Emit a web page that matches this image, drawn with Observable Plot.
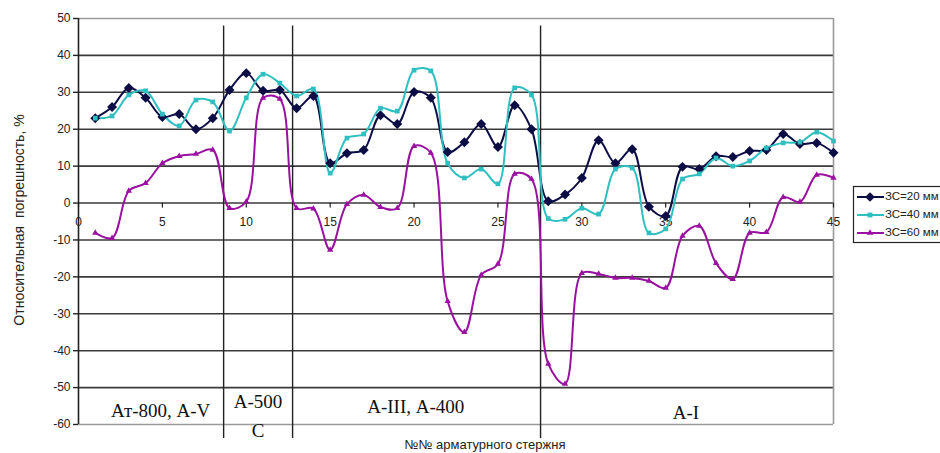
<!DOCTYPE html>
<html>
<head>
<meta charset="utf-8">
<script src="https://cdn.jsdelivr.net/npm/d3@7"></script>
<script src="https://cdn.jsdelivr.net/npm/@observablehq/plot@0.6"></script>
<style>
  html, body { margin: 0; padding: 0; background: #fff; overflow: hidden; }
  #chart { position: relative; width: 940px; height: 453px; }
</style>
</head>
<body>
<div id="chart"></div>
<script>
// ---- data ----
const bars = d3.range(1, 46); // rod numbers 1..45
const s20 = [23,26,31.2,28.5,23.3,24.1,20,23,30.6,35.2,
             30.4,30.6,25.7,29,10.8,13.5,14.4,23.8,21.4,30.1,
             28.5,13.8,16.5,21.4,15.2,26.5,20,0.5,2.3,6.8,
             17,10.8,14.6,-1,-3.5,9.8,9.2,12.7,12.5,14.1,
             14.4,18.7,16,16.3,13.6];
const s40 = [23,23.6,29.3,30.4,24.1,20.9,27.9,27.4,19.5,28.5,
             34.9,32.5,29,30.9,8.1,17.6,18.7,25.7,24.9,36,
             35.8,10.8,6.8,9.2,5.2,31.2,29.3,-4.2,-4.4,-1.4,
             -3,9.2,9.5,-8.1,-7,6.5,7.9,12.2,10,11.4,
             14.9,16.3,16.5,19.2,16.8];
const s60 = [-8.1,-9.5,3.3,5.4,10.8,12.7,13.3,14.4,-1.4,0.4,
             28.5,28.2,-1.4,-1.5,-12.7,-0.3,2.2,-1.1,-1.4,15.4,
             13.6,-26.6,-35,-19.5,-16.5,7.9,6.5,-43.6,-49,-19,
             -19.2,-20.3,-20.3,-21.1,-23,-8.9,-6.2,-16.3,-20.6,-8.1,
             -7.9,1.6,0.3,7.6,6.8];
const seriesNames = ["ЗС=20 мм", "ЗС=40 мм", "ЗС=60 мм"];
const seriesColors = ["#0d0d45", "#2fbfc0", "#9a10a0"];
const seriesSymbols = ["diamond2", "square2", "triangle2"];
const xTicks = [0,5,10,15,20,25,30,35,40,45];
const yTicks = [-60,-50,-40,-30,-20,-10,0,10,20,30,40,50];
const separators = [8.65, 12.76, 27.54];
const sectionLabels = ["Ат-800, А-V", "А-500", "С", "А-III, А-400", "А-I"];
const sectionX = [4.9, 10.7, 10.7, 20.1, 36.2];
const sectionY = [-56.4, -53.8, -61.8, -55.2, -56.9];
const yTitle = "Относительная  погрешность, %";
const xTitle = "№№ арматурного стержня";

// ---- build table ----
const table = [];
[s20, s40, s60].forEach((arr, i) => arr.forEach((v, j) => table.push({n: bars[j], v, s: seriesNames[i]})));
const sections = sectionLabels.map((t, i) => ({t, x: sectionX[i], y: sectionY[i]}));

const font = "Liberation Sans, Arial, sans-serif";
const marks = [
  // gridlines
  Plot.ruleY(yTicks.filter(d => d > -60 && d < 50), {y: d => d, x1: 0, x2: 45, stroke: "#3a3a3a", strokeWidth: 1.6}),
  Plot.ruleY([50, -60], {y: d => d, x1: 0, x2: 45, stroke: "#9a9a9a", strokeWidth: 1.6}),
  Plot.ruleX([45], {x: d => d, y1: -60, y2: 50, stroke: "#9a9a9a", strokeWidth: 1.6}),
  // section separators
  Plot.ruleX(separators, {x: d => d, y1: -63.8, y2: 48, stroke: "#222", strokeWidth: 1.4, clip: false}),
  // left axis line
  Plot.ruleX([0], {x: d => d, y1: -60, y2: 50, stroke: "#222", strokeWidth: 1.6}),
  // y ticks
  Plot.axisY(yTicks, {tickSize: 5, tickPadding: 3, fontSize: 12, stroke: "#222", strokeWidth: 1.4, tickFormat: d => d, label: null, fill: "#222"}),
  // x ticks on the zero line
  Plot.vector(xTicks, {x: d => d, y: 0, length: 4, rotate: 180, anchor: "start", stroke: "#222", strokeWidth: 1.2, shape: "spike", r: 0}),
  Plot.text(xTicks, {x: d => d, y: 0, dy: 19, text: d => String(d), fontSize: 12, fill: "#222", fontFamily: font}),
  // series lines
  Plot.line(table, {x: "n", y: "v", z: "s", stroke: "s", strokeWidth: 2, curve: "catmull-rom"}),
  Plot.dot(table.filter(d => d.s === seriesNames[0]), {x: "n", y: "v", symbol: () => "diamond2", fill: seriesColors[0], stroke: "none", r: 4.5}),
  Plot.dot(table.filter(d => d.s === seriesNames[1]), {x: "n", y: "v", symbol: () => "square2", fill: seriesColors[1], stroke: "none", r: 3}),
  Plot.dot(table.filter(d => d.s === seriesNames[2]), {x: "n", y: "v", symbol: () => "triangle2", fill: seriesColors[2], stroke: "none", r: 3}),
  // section labels
  Plot.text(sections, {x: "x", y: "y", text: "t", fontSize: 19, fontFamily: "Liberation Serif, Times New Roman, serif", fill: "#111", clip: false})
];

const chart = Plot.plot({
  width: 940,
  height: 453,
  marginLeft: 78,
  marginRight: 107,
  marginTop: 18,
  marginBottom: 29,
  style: {fontFamily: font, background: "white", overflow: "visible"},
  x: {domain: [0, 45], axis: null},
  y: {domain: [-60, 50], axis: null},
  color: {domain: seriesNames, range: seriesColors},
  symbol: {domain: ["diamond2", "square2", "triangle2"], range: ["diamond2", "square2", "triangle2"]},
  marks
});

const svg = d3.select(chart);
// axis titles
svg.append("text")
  .attr("transform", "translate(20,220) rotate(-90)")
  .attr("text-anchor", "middle")
  .attr("dominant-baseline", "middle")
  .style("font", "14px " + font)
  .style("white-space", "pre")
  .attr("fill", "#222")
  .text(yTitle);
svg.append("text")
  .attr("x", 485).attr("y", 446)
  .attr("text-anchor", "middle")
  .attr("dominant-baseline", "middle")
  .style("font", "13px " + font)
  .attr("fill", "#222")
  .text(xTitle);

// legend
const lg = svg.append("g").attr("text-anchor", "start");
lg.append("rect").attr("x", 853.5).attr("y", 186.5).attr("width", 100).attr("height", 56)
  .attr("fill", "white").attr("stroke", "#222").attr("stroke-width", 1.2);
const symGen = {diamond2: d3.symbolDiamond2, square2: d3.symbolSquare2, triangle2: d3.symbolTriangle2};
const symSize = [60, 30, 30];
seriesNames.forEach((name, i) => {
  const y = 197 + i * 18;
  lg.append("line").attr("x1", 857).attr("x2", 884).attr("y1", y).attr("y2", y)
    .attr("stroke", seriesColors[i]).attr("stroke-width", 2);
  lg.append("path").attr("d", d3.symbol(symGen[seriesSymbols[i]], symSize[i])())
    .attr("transform", `translate(870,${y})`).attr("fill", seriesColors[i]);
  lg.append("text").attr("x", 885).attr("y", y).attr("dominant-baseline", "middle")
    .attr("text-anchor", "start")
    .style("font", "11.5px " + font).attr("fill", "#222").text(name);
});

document.getElementById("chart").appendChild(chart);
</script>
</body>
</html>
